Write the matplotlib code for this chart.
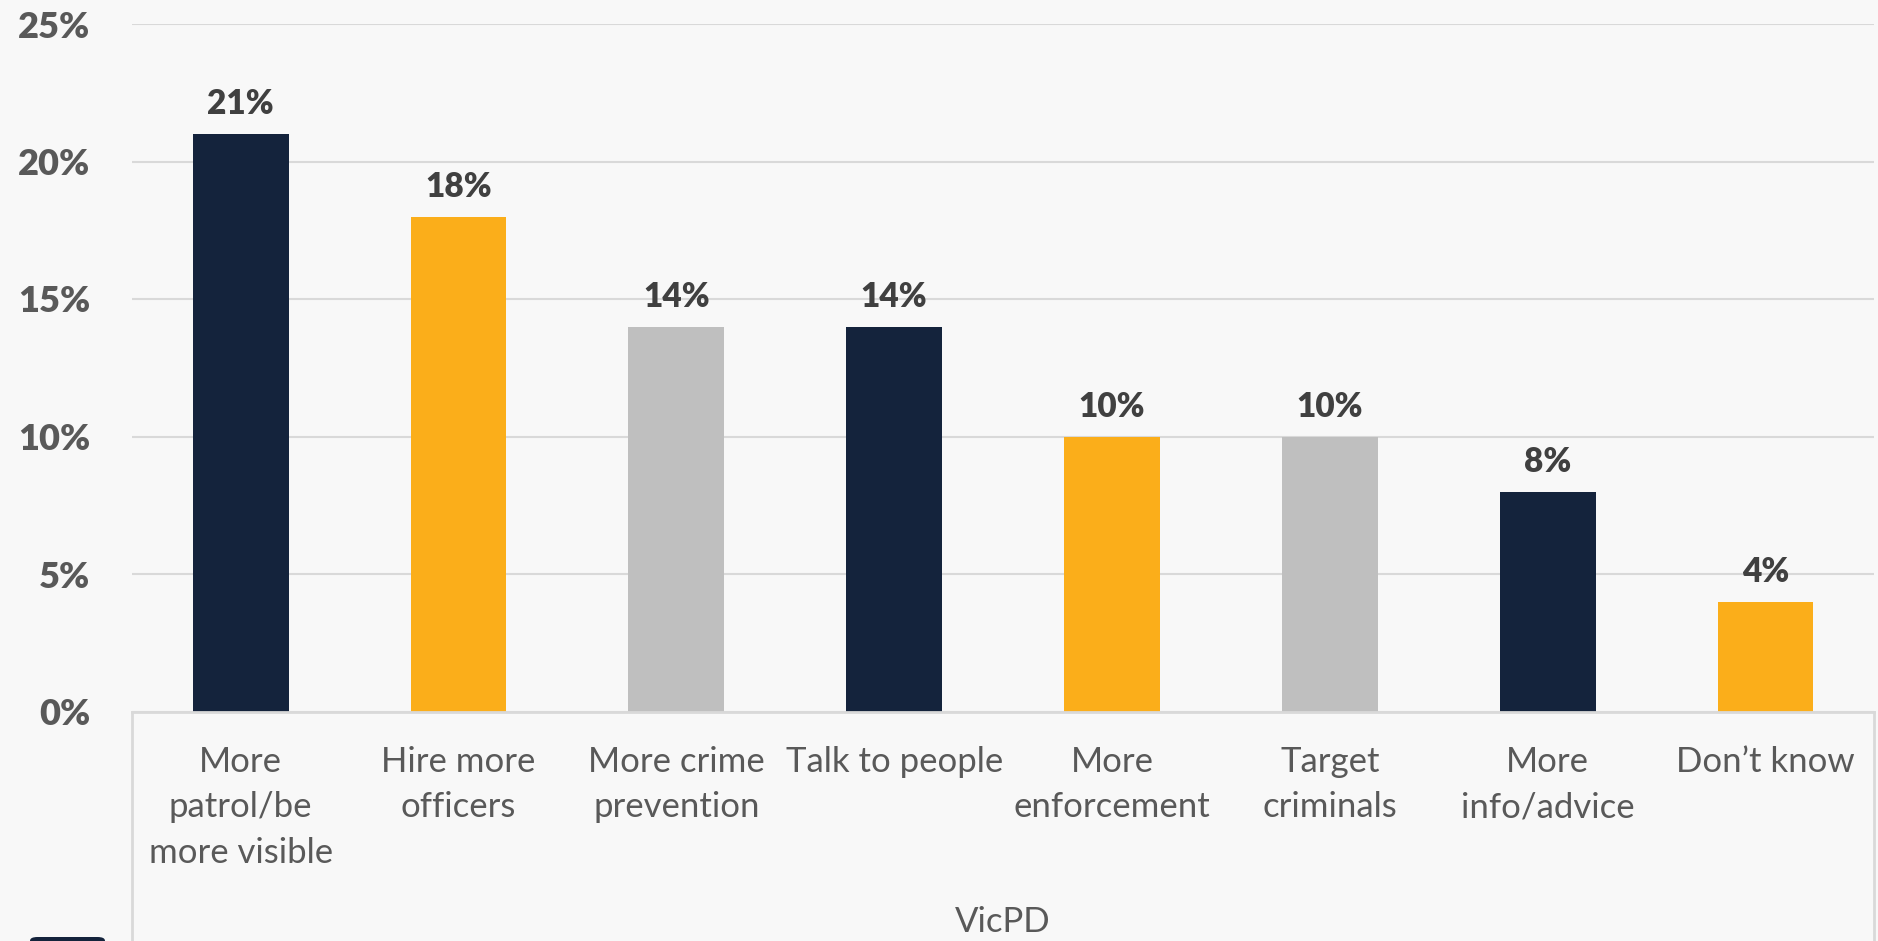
import matplotlib
matplotlib.use("Agg")
import matplotlib.pyplot as plt
from matplotlib.lines import Line2D
from matplotlib.patches import FancyBboxPatch

categories = ["More\npatrol/be\nmore visible", "Hire more\nofficers", "More crime\nprevention",
              "Talk to people", "More\nenforcement", "Target\ncriminals", "More\ninfo/advice",
              "Don\u2019t know"]
values = [21, 18, 14, 14, 10, 10, 8, 4]
group_label = "VicPD"
yticks = [0, 5, 10, 15, 20, 25]
ytick_labels = ["0%", "5%", "10%", "15%", "20%", "25%"]

navy = "#14233C"
orange = "#FBAE1A"
gray = "#BFBFBF"
bar_colors = [navy, orange, gray, navy, orange, gray, navy, orange]
bg = "#F8F8F8"
text_col = "#595959"

plt.rcParams['font.family'] = ['Lato', 'DejaVu Sans']

W, H = 1878, 941
fig = plt.figure(figsize=(W / 100, H / 100), dpi=100, facecolor=bg)
ax = fig.add_axes([131.7 / W, 229.5 / H, (1874.4 - 131.7) / W, (917 - 229.5) / H])
ax.set_facecolor(bg)

x = list(range(len(values)))
bars = ax.bar(x, values, width=0.44, color=bar_colors, zorder=3)
ax.set_xlim(-0.5, len(values) - 0.5)
ax.set_ylim(0, 25)

ax.set_yticks(yticks)
ax.set_yticklabels(ytick_labels, fontsize=26, fontweight='heavy', color=text_col)
ax.tick_params(axis='y', length=0, pad=30)
ax.set_xticks(x)
ax.set_xticklabels(categories, fontsize=25, color=text_col, linespacing=1.53, va='top')
ax.tick_params(axis='x', length=0, pad=24.5)

ax.grid(axis='y', color="#D9D9D9", linewidth=1.5, zorder=0)
for s in ['top', 'right', 'left']:
    ax.spines[s].set_visible(False)
ax.spines['bottom'].set_color("#D9D9D9")
ax.spines['bottom'].set_linewidth(2)
ax.spines['bottom'].set_zorder(4)

for b, v in zip(bars, values):
    ax.annotate(f"{v}%", (b.get_x() + b.get_width() / 2, v), xytext=(0, 21.5),
                textcoords='offset points', ha='center', va='center',
                fontsize=24, fontweight='heavy', color="#404040")

# category group box lines
for xa in (0, 1):
    ax.add_line(Line2D([xa, xa], [0, -0.4], transform=ax.transAxes, color="#D9D9D9",
                       linewidth=2, clip_on=False))

fig.text(ax.get_position().x0 + ax.get_position().width / 2, 19 / H, group_label,
         ha='center', va='center', fontsize=25, color=text_col)

# cut-off legend key
fig.patches.append(FancyBboxPatch((30 / W, -10 / H), 75 / W, 14 / H,
                                  boxstyle="round,pad=0,rounding_size=0.004",
                                  transform=fig.transFigure, facecolor=navy, edgecolor='none'))

fig.savefig("out.png", dpi=100, facecolor=bg)
